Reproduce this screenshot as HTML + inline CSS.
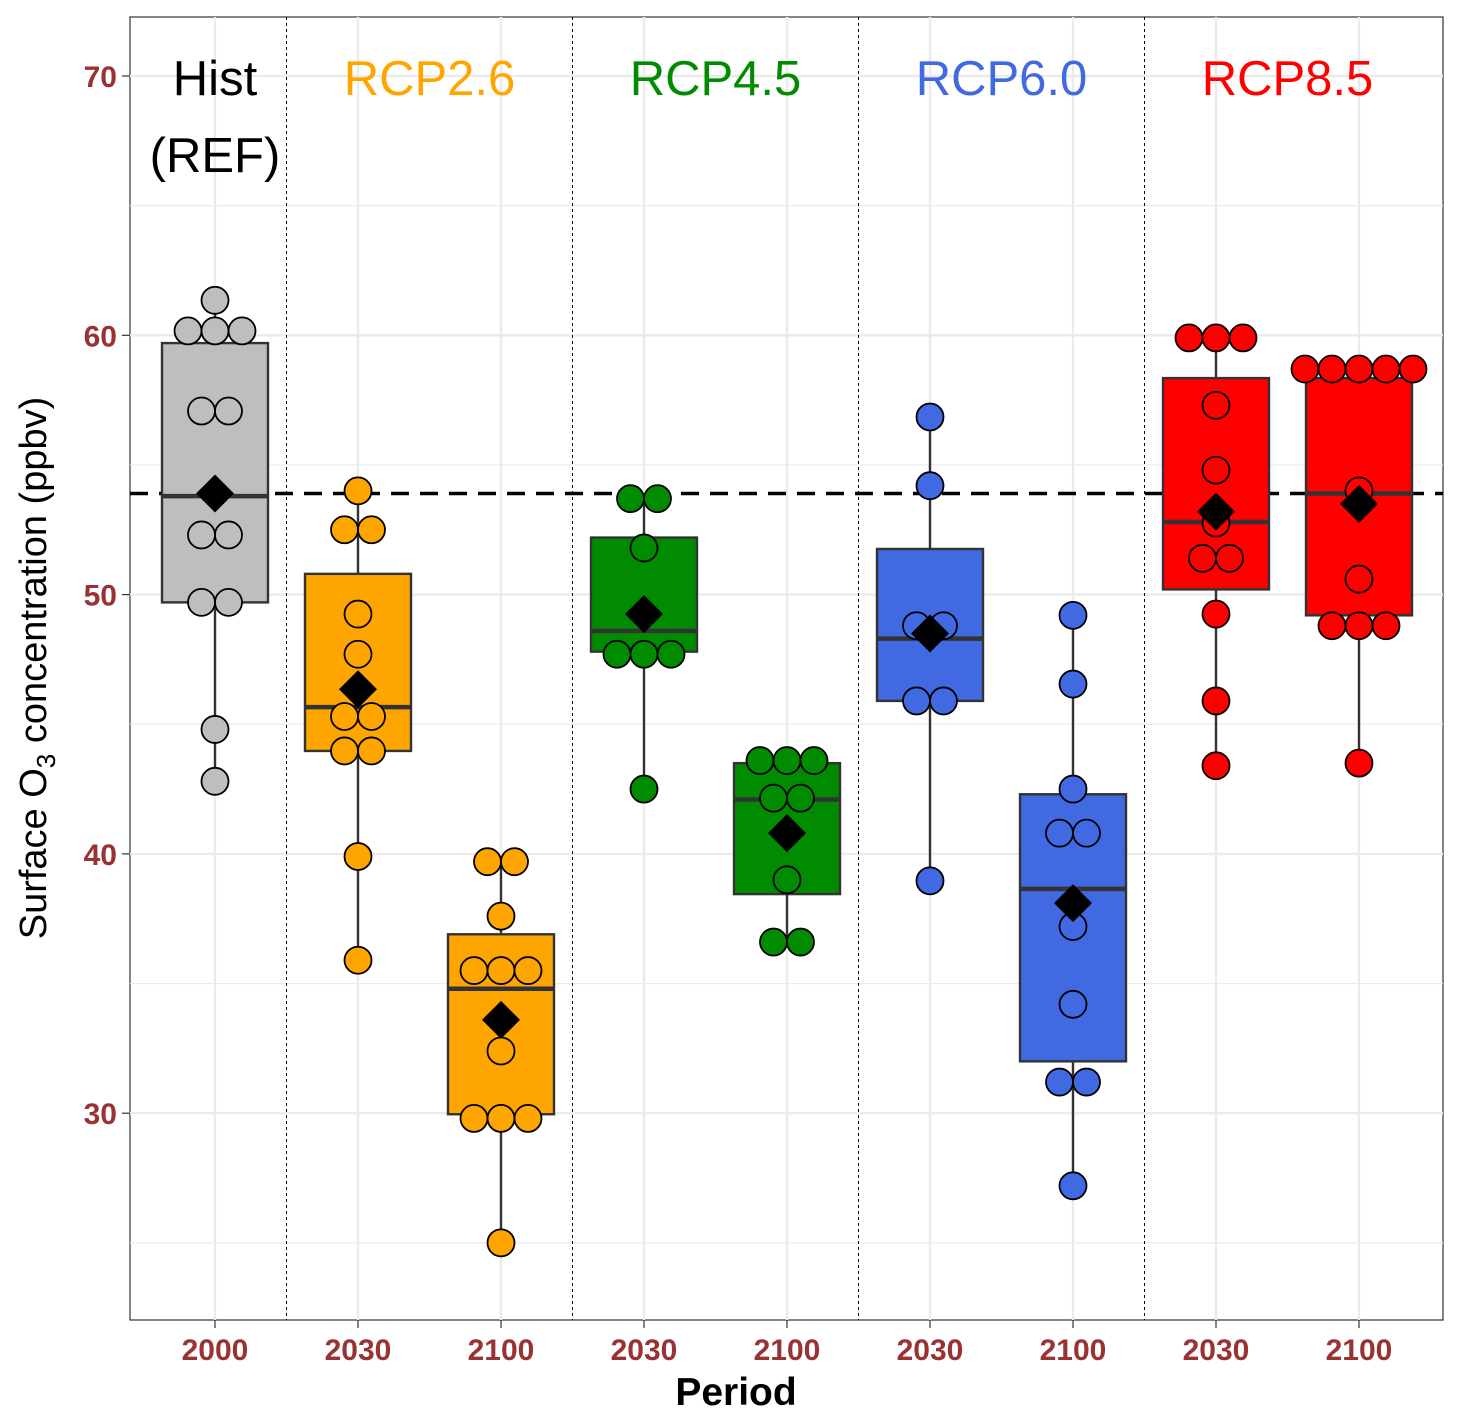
<!DOCTYPE html>
<html><head><meta charset="utf-8"><style>
body{margin:0;background:#fff}
svg{display:block;font-family:"Liberation Sans",sans-serif}
</style></head><body>
<svg id="chart" width="1460" height="1415" viewBox="0 0 1460 1415" xmlns="http://www.w3.org/2000/svg">
<rect x="130" y="17" width="1313" height="1303" fill="#fff" stroke="#333" stroke-width="1.2"/>
<g id="grid"></g><g id="seps"></g><g id="boxes"></g>
<g id="labels"></g>
<text transform="translate(46,668) rotate(-90)" text-anchor="middle" font-size="38">Surface O<tspan font-size="26" dy="9">3</tspan><tspan dy="-9"> concentration (ppbv)</tspan></text>
<text x="736" y="1405" text-anchor="middle" font-size="39" font-weight="bold">Period</text>
</svg>
<script>
const categories=["2000","2030","2100","2030","2100","2030","2100","2030","2100"];
const groups=["Hist","RCP2.6","RCP2.6","RCP4.5","RCP4.5","RCP6.0","RCP6.0","RCP8.5","RCP8.5"];
const q1=[49.7,43.97,29.96,47.8,38.45,45.9,32.0,50.2,49.2];
const medians=[53.8,45.66,34.8,48.6,42.1,48.3,38.65,52.8,53.9];
const q3=[59.7,50.8,36.9,52.2,43.5,51.76,42.3,58.35,58.35];
const whiskerLo=[42.8,35.9,25.0,42.5,36.6,38.96,27.2,43.4,43.5];
const whiskerHi=[61.3,54.1,39.7,53.7,43.6,56.85,49.2,59.9,58.7];
const means=[53.9,46.35,33.6,49.25,40.8,48.5,38.1,53.2,53.5];
const points=[
[61.35,60.17,60.17,60.17,57.08,57.08,52.3,52.3,49.7,49.7,44.8,42.8],
[54.0,52.5,52.5,49.25,47.7,45.3,45.3,43.97,43.97,39.9,35.9],
[39.7,39.7,37.6,35.5,35.5,35.5,32.4,29.8,29.8,29.8,25.0],
[53.7,53.7,51.8,47.7,47.7,47.7,42.5],
[43.6,43.6,43.6,42.15,42.15,39.0,36.6,36.6],
[56.85,54.2,48.8,48.8,45.9,45.9,38.96],
[49.2,46.55,42.5,40.8,40.8,37.2,34.2,31.2,31.2,27.2],
[59.9,59.9,59.9,57.3,54.8,52.76,51.4,51.4,49.25,45.9,43.4],
[58.7,58.7,58.7,58.7,58.7,54.0,50.6,48.8,48.8,48.8,43.5]];
const refLine=53.9;
const yTicks=[30,40,50,60,70];
const yMinor=[25,35,45,55,65];
const groupNames=["Hist","RCP2.6","RCP4.5","RCP6.0","RCP8.5"];
const groupColors={"Hist":"#BEBEBE","RCP2.6":"#FFA500","RCP4.5":"#008B00","RCP6.0":"#4169E1","RCP8.5":"#FF0000"};
const labelColors={"Hist":"#000","RCP2.6":"#FFA500","RCP4.5":"#008B00","RCP6.0":"#4169E1","RCP8.5":"#FF0000"};

const NS="http://www.w3.org/2000/svg";
const y=v=>76+(70-v)*25.93;
const x=i=>215+i*143;
function mk(par,tag,at){const e=document.createElementNS(NS,tag);for(const k in at)e.setAttribute(k,at[k]);par.appendChild(e);return e;}
const grid=document.getElementById('grid'),seps=document.getElementById('seps'),boxes=document.getElementById('boxes'),labels=document.getElementById('labels');
yMinor.forEach(v=>{const l=mk(grid,'line',{x1:130,x2:1443,y1:y(v),y2:y(v),stroke:'#EBEBEB','stroke-width':1.2});

});
yTicks.forEach(v=>{const l=mk(grid,'line',{x1:130,x2:1443,y1:y(v),y2:y(v),stroke:'#EBEBEB','stroke-width':2.4});


mk(labels,'line',{x1:122,x2:130,y1:y(v),y2:y(v),stroke:'#333','stroke-width':1.2});
const t=mk(labels,'text',{x:117,y:y(v)+11,'text-anchor':'end','font-size':30,'font-weight':'bold',fill:'#993333'});t.textContent=v;

});
categories.forEach((c,i)=>{const l=mk(grid,'line',{x1:x(i),x2:x(i),y1:17,y2:1320,stroke:'#EBEBEB','stroke-width':2.4});


mk(labels,'line',{x1:x(i),x2:x(i),y1:1320,y2:1328,stroke:'#333','stroke-width':1.2});
const t=mk(labels,'text',{x:x(i),y:1360,'text-anchor':'middle','font-size':30,'font-weight':'bold',fill:'#993333'});t.textContent=c;

});
[0.5,2.5,4.5,6.5].forEach(p=>{const l=mk(seps,'line',{x1:x(p),x2:x(p),y1:17,y2:1320,stroke:'#000','stroke-width':1,'stroke-dasharray':'3,3'});

});
const dl=mk(seps,'line',{x1:130,x2:1443,y1:y(refLine),y2:y(refLine),stroke:'#000','stroke-width':3.5,'stroke-dasharray':'18,11'});


categories.forEach((c,i)=>{
 const g=mk(boxes,'g',{});
 
 
 const col=groupColors[groups[i]],cx=x(i);
 mk(g,'line',{x1:cx,x2:cx,y1:y(whiskerLo[i]),y2:y(whiskerHi[i]),stroke:'#333','stroke-width':2.4});
 mk(g,'rect',{x:cx-53,y:y(q3[i]),width:106,height:y(q1[i])-y(q3[i]),fill:col,stroke:'#333','stroke-width':2.4});
 mk(g,'line',{x1:cx-53,x2:cx+53,y1:y(medians[i]),y2:y(medians[i]),stroke:'#333','stroke-width':4.5});
 const cnt={};points[i].forEach(v=>cnt[v]=(cnt[v]||0)+1);
 Object.keys(cnt).forEach(k=>{const n=cnt[k];for(let j=0;j<n;j++){
   const c2=mk(g,'circle',{cx:cx+(j-(n-1)/2)*27,cy:y(+k),r:13.5,fill:col,stroke:'#000','stroke-width':1.8});
   
   }});
 const my=y(means[i]);
 const d=mk(g,'polygon',{points:`${cx},${my-19} ${cx+19},${my} ${cx},${my+19} ${cx-19},${my}`,fill:'#000'});
 
 
});
groupNames.forEach((gname,k)=>{const cx=gname==="Hist"?215:x(2*k-0.5);
 const t=mk(labels,'text',{x:cx,y:95,'text-anchor':'middle','font-size':49,fill:labelColors[gname]});t.textContent=gname;
 
 });
const r=mk(labels,'text',{x:215,y:172,'text-anchor':'middle','font-size':49,fill:'#000'});r.textContent='(REF)';


</script>
</body></html>
